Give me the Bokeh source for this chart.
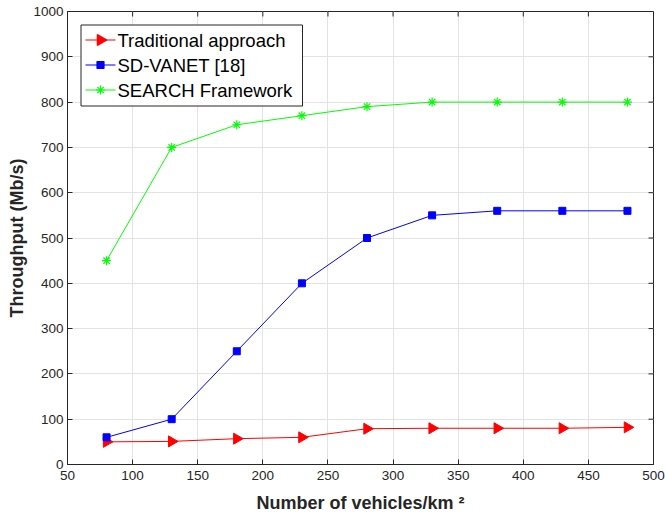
import math
from bokeh.plotting import figure
from bokeh.models import Range1d, FixedTicker
from bokeh.core.properties import value
from bokeh.embed import file_html
from bokeh.resources import INLINE

vehicles = [80, 130, 180, 230, 280, 330, 380, 430, 480]
traditional = [50, 51, 57, 60, 79, 80, 80, 80, 82]
sd_vanet = [60, 100, 250, 400, 500, 550, 560, 560, 560]
search = [450, 700, 750, 770, 790, 800, 800, 800, 800]
series_names = ["Traditional approach", "SD-VANET [18]", "SEARCH Framework"]
x_ticks = [50, 100, 150, 200, 250, 300, 350, 400, 450, 500]
y_ticks = [0, 100, 200, 300, 400, 500, 600, 700, 800, 900, 1000]

FONT = "Liberation Sans"
AX = "#262626"
RED, BLUE, GREEN = "#ff0000", "#0000ff", "#00ff00"

FW, FH = 586, 453          # frame size in px
BL, BT, BR, BB = 67, 11, 12, 54
X0, X1, Y0, Y1 = 50, 500, 0, 1000

p = figure(frame_width=FW, frame_height=FH, output_backend="svg", toolbar_location=None,
           x_range=Range1d(X0, X1), y_range=Range1d(Y0, Y1),
           min_border_left=BL, min_border_right=BR, min_border_top=BT, min_border_bottom=BB)
p.background_fill_color = "white"
p.outline_line_color = AX
p.outline_line_width = 1

for ax in (p.xaxis[0], p.yaxis[0]):
    ax.axis_line_color = AX
    ax.major_tick_line_color = AX
    ax.minor_tick_line_color = None
    ax.major_tick_in = 5
    ax.major_tick_out = 0
    ax.major_label_text_font = FONT
    ax.major_label_text_font_size = "13.5px"
    ax.major_label_text_color = AX
    ax.axis_label_text_font = FONT
    ax.axis_label_text_font_size = "18px"
    ax.axis_label_text_font_style = "bold"
    ax.axis_label_text_color = AX

p.xaxis[0].ticker = FixedTicker(ticks=x_ticks)
p.yaxis[0].ticker = FixedTicker(ticks=y_ticks)
p.xaxis[0].major_label_standoff = 6
p.yaxis[0].major_label_standoff = 4
p.xaxis[0].axis_label = "Number of vehicles/km \u00b2"
p.xaxis[0].axis_label_standoff = 10
p.yaxis[0].axis_label = "Throughput (Mb/s)"
p.yaxis[0].axis_label_standoff = 3

p.xgrid.ticker = FixedTicker(ticks=x_ticks)
p.ygrid.ticker = FixedTicker(ticks=y_ticks)
p.grid.grid_line_color = "#e3e3e3"
p.grid.grid_line_width = 1

# px -> data helpers (frame-relative pixel positions)
def dx(px):
    return X0 + (px - BL) * (X1 - X0) / FW

def dy(py):
    return Y1 - (py - BT) * (Y1 - Y0) / FH

# ticks on the right and top edges (box on)
tx = 5 * (X1 - X0) / FW
ty = 5 * (Y1 - Y0) / FH
p.segment(x0=[X1 - tx] * len(y_ticks), x1=[X1] * len(y_ticks), y0=y_ticks, y1=y_ticks,
          line_color=AX, line_width=1)
p.segment(x0=x_ticks, x1=x_ticks, y0=[Y1 - ty] * len(x_ticks), y1=[Y1] * len(x_ticks),
          line_color=AX, line_width=1)

# data
p.line(vehicles, traditional, line_color=RED, line_width=1)
p.scatter(vehicles, traditional, marker="triangle", size=11, angle=-math.pi / 2,
          fill_color=RED, line_color=RED)
p.line(vehicles, sd_vanet, line_color=BLUE, line_width=1)
p.scatter(vehicles, sd_vanet, marker="square", size=7, fill_color=BLUE, line_color=BLUE)
p.line(vehicles, search, line_color=GREEN, line_width=1)
p.scatter(vehicles, search, marker="asterisk", size=9, line_color=GREEN, line_width=1.2)

# legend (drawn by hand so the right-pointing triangle shows)
p.quad(left=[dx(80.5)], right=[dx(302)], top=[dy(24.5)], bottom=[dy(105.5)],
       fill_color="white", line_color=AX, line_width=1)
rows = [39.5, 64.5, 89.5]
styles = [(RED, "triangle", 11, -math.pi / 2), (BLUE, "square", 7, 0), (GREEN, "asterisk", 9, 0)]
for name, ry, (col, mk, sz, ang) in zip(series_names, rows, styles):
    p.line([dx(85), dx(115)], [dy(ry), dy(ry)], line_color=col, line_width=1)
    p.scatter([dx(100)], [dy(ry)], marker=mk, size=sz, angle=ang,
              fill_color=col, line_color=col, line_width=1.2)
    p.text([dx(117)], [dy(ry)], text=[name], text_font=value(FONT), text_font_size="18.5px",
           text_baseline="middle", text_align="left", text_color="#000000")

open("out.html", "w").write(file_html(p, INLINE))
